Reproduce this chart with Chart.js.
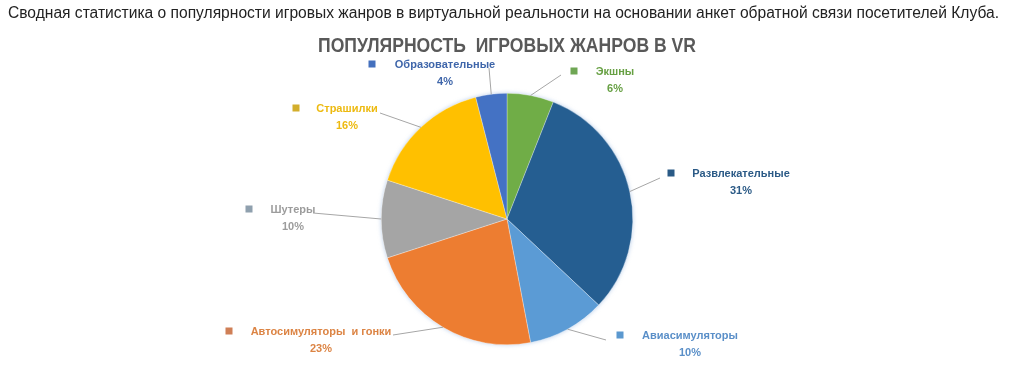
<!DOCTYPE html>
<html>
<head>
<meta charset="utf-8">
<script src="https://cdn.jsdelivr.net/npm/chart.js@4.4.1/dist/chart.umd.min.js"></script>
<style>
html,body{margin:0;padding:0;background:#fff;}
#wrap{position:relative;width:1011px;height:379px;}
</style>
</head>
<body>
<div id="wrap"><canvas id="c" width="1011" height="379"></canvas></div>
<script>
// ---- data ----
const caption = 'Сводная статистика о популярности игровых жанров в виртуальной реальности на основании анкет обратной связи посетителей Клуба.';
const chartTitle = 'ПОПУЛЯРНОСТЬ  ИГРОВЫХ ЖАНРОВ В VR';
const categories = ['Экшны', 'Развлекательные', 'Авиасимуляторы', 'Автосимуляторы  и гонки', 'Шутеры', 'Страшилки', 'Образовательные'];
const percentValues = [6, 31, 10, 23, 10, 16, 4];

// ---- styles ----
const sliceColors = ['#70AD47', '#255E91', '#5B9BD5', '#ED7D31', '#A5A5A5', '#FFC000', '#4472C4'];
const labelTextColors = ['#67A043', '#2B5A86', '#5A8FC8', '#DC8444', '#9C9C9C', '#EDBA10', '#3F66AA'];
const markerColors = ['#6FA654', '#2A5A86', '#5B98CF', '#CF7F56', '#8FA0AE', '#D3AE2C', '#4470BE'];

// label layout: [lineEndX, lineEndY, textCenterX, nameY, markerX]
const labelLayout = [
  [561, 75, 615, 72, 574],
  [660, 178, 741, 174, 671],
  [606, 340, 690, 336, 620],
  [393, 335, 321, 332, 229],
  [313, 213, 293, 210, 249],
  [380, 113, 347, 109, 296],
  [489, 68, 445, 65, 372]
];

function fitText(ctx, text, x, y, width, align) {
  const w = ctx.measureText(text).width;
  ctx.save();
  ctx.translate(x, y);
  ctx.scale(width / w, 1);
  ctx.textAlign = align;
  ctx.fillText(text, 0, 0);
  ctx.restore();
}

const decorPlugin = {
  id: 'decor',
  beforeDatasetsDraw(chart) {
    const ctx = chart.ctx;
    const arc = chart.getDatasetMeta(0).data[0];
    ctx.save();
    ctx.beginPath();
    ctx.arc(arc.x, arc.y, arc.outerRadius, 0, Math.PI * 2);
    ctx.shadowColor = 'rgba(120,160,215,0.55)';
    ctx.shadowBlur = 4;
    ctx.fillStyle = '#fff';
    ctx.fill();
    ctx.restore();
  },
  afterDraw(chart) {
    const ctx = chart.ctx;
    ctx.save();
    // caption
    ctx.fillStyle = '#222';
    ctx.font = '16px "Liberation Sans", Arial, sans-serif';
    ctx.textBaseline = 'middle';
    fitText(ctx, caption, 8, 14, 991, 'left');
    // title
    ctx.fillStyle = '#595959';
    ctx.font = 'bold 21px "Liberation Sans", Arial, sans-serif';
    fitText(ctx, chartTitle, 507, 46, 378, 'center');

    const meta = chart.getDatasetMeta(0);
    meta.data.forEach((el, i) => {
      const mid = (el.startAngle + el.endAngle) / 2;
      const px = el.x + Math.cos(mid) * el.outerRadius;
      const py = el.y + Math.sin(mid) * el.outerRadius;
      const L = labelLayout[i];
      ctx.strokeStyle = '#A6A6A6';
      ctx.lineWidth = 1;
      ctx.beginPath();
      ctx.moveTo(px, py);
      ctx.lineTo(L[0], L[1]);
      ctx.stroke();
      ctx.fillStyle = markerColors[i];
      ctx.fillRect(L[4] - 3.5, L[3] - 4.5, 7, 7);
      ctx.fillStyle = labelTextColors[i];
      ctx.font = 'bold 11px "Liberation Sans", Arial, sans-serif';
      ctx.textAlign = 'center';
      ctx.textBaseline = 'middle';
      ctx.fillText(categories[i], L[2], L[3]);
      ctx.fillText(percentValues[i] + '%', L[2], L[3] + 17);
    });
    ctx.restore();
  }
};

new Chart(document.getElementById('c'), {
  type: 'pie',
  data: {
    labels: categories,
    datasets: [{
      data: percentValues,
      backgroundColor: sliceColors,
      borderColor: 'rgba(255,255,255,0.6)',
      borderWidth: 0.5
    }]
  },
  options: {
    responsive: false,
    animation: false,
    layout: { padding: { left: 381, right: 378, top: 93, bottom: 34 } },
    plugins: {
      legend: { display: false },
      title: { display: false },
      tooltip: { enabled: false }
    }
  },
  plugins: [decorPlugin]
});
</script>
</body>
</html>
